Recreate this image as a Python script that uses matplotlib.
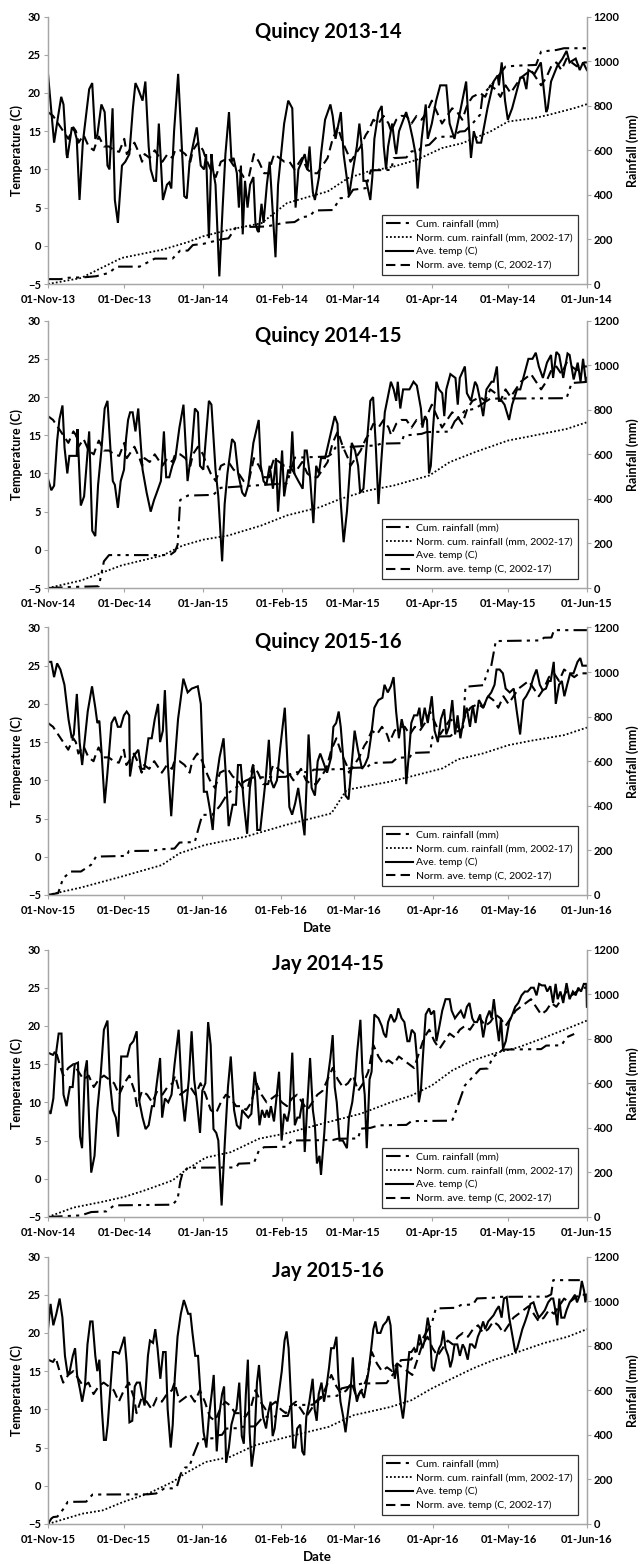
import datetime as dt

import matplotlib
matplotlib.use("Agg")
import matplotlib.pyplot as plt
import matplotlib.dates as mdates
from matplotlib.lines import Line2D

plt.rcParams["font.family"] = ["Lato", "DejaVu Sans"]

# ---- data: (day offset from 01-Nov, value) ----
TITLES = ["Quincy 2013-14", "Quincy 2014-15", "Quincy 2015-16", "Jay 2014-15", "Jay 2015-16"]
START_YEARS = [2013, 2014, 2015, 2014, 2015]

quincy_norm_temp = [
    (0, 17.5), (2, 17), (4, 16), (6, 15), (8, 14), (10, 15.5), (11, 15), (12, 13.5), (14, 14.5),
    (16, 13), (18, 12.5), (19, 13.5), (20, 14.3), (22, 13), (24, 13), (26, 12.5), (28, 12.3),
    (30, 14), (31, 12), (32, 12.5), (34, 13.5), (36, 12), (37, 11), (38, 12), (40, 11.5),
    (42, 12.5), (45, 11), (47, 12), (49, 11.5), (50, 12.5), (52, 12.5), (54, 12), (56, 11),
    (57, 12.5), (59, 13.5), (61, 12.5), (62, 11.5), (64, 10), (66, 9), (68, 11), (71, 11.5),
    (73, 10.5), (75, 10), (77, 9), (79, 9), (80, 10.5), (81, 12), (83, 11), (85, 9.5), (87, 9.5),
    (88, 11), (89, 12), (91, 11.5), (93, 11), (95, 11), (97, 10), (98, 10.5), (100, 11.5),
    (102, 10), (104, 9.5), (106, 9.5), (108, 10.5), (110, 11.5), (112, 14), (114, 15.5),
    (116, 13.5), (118, 12), (119, 11), (121, 12), (123, 13), (125, 14.5), (126, 15), (128, 16.5),
    (130, 16), (132, 17), (134, 16), (135, 15), (137, 16.5), (139, 17), (141, 17), (143, 16),
    (145, 17), (147, 16.5), (149, 17.5), (151, 19), (153, 17.5), (155, 16), (157, 17), (159, 18),
    (161, 17.5), (163, 16.5), (165, 18.5), (167, 19.5), (170, 20), (172, 19.5), (174, 21),
    (176, 20.5), (178, 19.5), (180, 21), (182, 20), (184, 21), (186, 22), (188, 22.5), (190, 23),
    (192, 22), (194, 21), (196, 22), (198, 23.5), (200, 24), (202, 23), (204, 24.5), (206, 24),
    (208, 23.5), (210, 24), (213, 24),
]

jay_norm_temp = [
    (0, 16.5), (2, 16.2), (3, 16.8), (5, 14.5), (6, 13.5), (8, 14.5), (10, 15), (12, 14),
    (14, 13), (16, 13.5), (18, 12), (20, 13), (22, 13.5), (24, 13), (26, 12.5), (28, 11),
    (30, 12.5), (32, 13.5), (34, 11.5), (35, 9.5), (37, 11.5), (39, 11), (41, 10), (43, 11.5),
    (45, 11), (47, 12), (49, 12.5), (50, 13.5), (52, 11), (54, 11.5), (56, 12), (58, 11),
    (60, 12.5), (62, 11), (64, 9), (66, 8.5), (68, 10), (70, 11), (72, 10.5), (74, 9.5),
    (76, 9.5), (78, 9), (80, 10), (82, 12.5), (84, 11), (86, 10), (88, 10.5), (90, 11), (92, 10),
    (94, 9.5), (96, 10.5), (98, 11), (100, 10), (102, 9), (104, 10), (106, 11), (108, 11.5),
    (110, 13), (112, 14.5), (114, 13), (116, 12), (118, 12.5), (120, 13.5), (122, 11.5),
    (124, 12.5), (126, 14), (128, 17.5), (130, 16), (132, 15), (134, 15.5), (136, 15), (138, 16),
    (140, 15.5), (142, 15), (144, 14.5), (146, 16.5), (148, 18.5), (150, 19.5), (152, 18),
    (154, 17), (156, 18), (158, 19), (160, 18.5), (162, 19.5), (164, 20), (166, 19.5),
    (168, 20.5), (170, 21), (172, 20), (174, 20.5), (176, 21.5), (178, 21), (180, 20), (182, 21),
    (184, 22), (186, 22.5), (188, 23), (190, 23.5), (192, 22.5), (194, 21.5), (196, 22),
    (198, 23), (200, 22.5), (202, 23.5), (204, 24.5), (206, 24), (208, 24.5), (210, 25), (213, 25),
]

q13_temp = [
    (0, 22.5), (2.4, 13.5), (4, 17), (5.2, 19.5), (6.1, 18.5), (7.3, 12), (7.6, 11.5), (9.4, 15.5),
    (10.5, 15), (11.3, 14), (12.4, 6), (13.7, 13.5), (16.2, 20.5), (17.4, 21.3), (18.6, 14),
    (19.4, 14.5), (20.2, 16.5), (21, 18.5), (22.3, 17.5), (23.4, 10.5), (24.2, 10), (25.4, 18),
    (26.3, 6), (27.5, 3), (29.1, 10.5), (30.4, 11), (32, 12), (33.4, 18), (34.4, 21.3),
    (35.5, 20.5), (37.2, 19), (38.3, 21.5), (39.6, 13), (40.4, 10), (41.7, 8.5), (42.5, 8.5),
    (43.6, 16), (45.2, 6), (46.8, 8), (47.7, 8.3), (48.5, 7.5), (49.6, 15), (51.2, 22.5),
    (52.2, 16), (53.6, 6.5), (54.6, 6.2), (55.7, 11), (58.5, 15.5), (59.3, 13), (60.1, 10.5),
    (61.4, 10), (62.2, 12), (63.3, 1), (64.3, 12), (64.9, 10), (65.9, 8), (67.4, -4), (68.7, 5),
    (69.8, 12), (71.2, 17.5), (72.2, 11), (73, 11.5), (74.3, 9.5), (75.1, 5), (75.9, 10.5),
    (76.6, 1.5), (77.5, 8.5), (78.5, 5), (79.5, 8), (80.8, 9), (81.6, 3), (82.4, 2), (82.9, 1.8),
    (84, 5.5), (84.8, 3), (86.1, 8), (87.2, 11), (89.5, -1.5), (90.5, 8), (92.9, 16), (94.5, 19),
    (96.1, 18), (97.4, 5), (98.5, 10), (99.8, 11), (101, 12), (102.1, 10), (102.9, 13),
    (103.7, 9), (104.2, 7), (105, 6), (106.6, 9), (107.4, 12), (109, 16.5), (111.1, 18.5),
    (112, 17), (113.1, 14), (115.2, 17.5), (116.3, 12), (117.9, 8), (118.4, 6.5), (120, 10),
    (121.5, 13), (122.5, 16), (123.6, 12.5), (124.1, 8.5), (125.2, 8.5), (126.8, 6), (127.6, 9),
    (128.4, 14), (130, 17.5), (131.3, 18.3), (132.1, 13), (133, 10), (133.8, 13), (135.4, 16),
    (136.5, 13), (137, 12), (138.1, 15), (140.9, 17.5), (142.2, 16), (143.5, 14), (144.6, 12),
    (145.4, 7.5), (147, 14), (148.6, 18.5), (149.4, 14), (151, 16), (152.7, 19), (154.3, 21),
    (156.7, 21), (158, 16), (159.9, 14), (162.4, 18), (164.5, 21.5), (165.3, 17), (166.4, 11.5),
    (167.5, 15), (168.8, 13.5), (170.4, 13.5), (172.9, 18), (175.3, 21.5), (176.9, 22.3),
    (177.4, 21), (178.5, 24), (179.8, 19), (180.9, 16.5), (182.6, 18), (185.8, 22), (187.1, 22),
    (188.2, 20.5), (189, 23), (191.4, 22.5), (193.9, 24), (196, 17.5), (196.6, 18), (197.9, 21.5),
    (200.3, 23.5), (202.4, 24.5), (204, 25.5), (205.2, 24), (207.6, 24.5), (209.2, 23),
    (210.5, 24), (212, 23),
]
q13_rain = [
    (0, 22), (5, 22), (8, 28), (14, 30), (19, 35), (24, 50), (27, 78), (36, 78), (42, 114),
    (49, 114), (52, 150), (55, 150), (57, 175), (61, 180), (68, 200), (71, 205), (74, 255),
    (86, 258), (93, 275), (97, 278), (100, 300), (103, 305), (105, 330), (112, 332), (115, 385),
    (118, 388), (120, 423), (125, 430), (127, 510), (135, 512), (136, 565), (141, 568),
    (143, 595), (146, 600), (147, 617), (150, 625), (153, 660), (159, 662), (162, 684),
    (164, 686), (167, 720), (170, 760), (171, 850), (174, 886), (180, 976), (185, 980),
    (192, 983), (194, 1043), (200, 1050), (203, 1058), (212, 1058),
]
q13_norm_rain = [
    (0, 0), (13, 27), (29, 117), (45, 154), (55, 188), (61, 214), (71, 243), (84, 273), (94, 363),
    (103, 393), (110, 415), (118, 475), (126, 505), (136, 527), (145, 557), (155, 610),
    (163, 632), (174, 684), (181, 729), (191, 744), (197, 759), (207, 789), (212, 807),
]

q14_temp = [
    (0, 9.3), (1.3, 7.8), (2.4, 8.4), (3.6, 14.3), (4.5, 17.1), (5.7, 18.9), (6.5, 13.4),
    (7.6, 10), (8.4, 12.3), (11.3, 12.3), (11.6, 15.8), (12.9, 5.8), (14.2, 7), (16.2, 15.5),
    (17.4, 2.5), (18.6, 1.8), (19.7, 8.5), (21, 13), (22.3, 18.5), (23.4, 19.5), (24.6, 13),
    (25.5, 9), (26.3, 8.5), (27.5, 5.5), (28.6, 9), (29.9, 10.5), (30.7, 14.5), (31.5, 17),
    (32.3, 18), (33.3, 18), (34.4, 15.5), (35.5, 18.5), (37.2, 10.5), (38.8, 7.5), (40.4, 5),
    (41.7, 6.5), (42.8, 7.5), (44.4, 9), (45.6, 15.5), (46.5, 9.5), (47.7, 9.5), (48.9, 11),
    (50.1, 12), (51.7, 16), (53.3, 19), (54.1, 14), (54.9, 9), (56.5, 13), (57.8, 18.5),
    (59, 18), (59.8, 11), (61.1, 10.5), (63.3, 19.5), (64.3, 19), (65.9, 10.5), (67, 7),
    (68.5, -1.5), (69.5, 6), (70.6, 10), (72.4, 14.5), (73.5, 14), (74.8, 10), (76.4, 7.5),
    (77.5, 7), (78.8, 8.5), (80.8, 14), (82.9, 17), (83.7, 11), (84.8, 9), (85.9, 8.5),
    (87.2, 11), (88.5, 8), (89.7, 12), (90.5, 5), (92.1, 13), (92.9, 7), (94.5, 10.5),
    (95.3, 10), (96.1, 15.5), (96.9, 10), (98.5, 9), (100.2, 8), (101, 13), (101.8, 13),
    (103.1, 9.5), (104.4, 3.5), (105.5, 11), (106.6, 10), (107.4, 12), (109, 12), (112.8, 17.5),
    (113.9, 16.5), (115, 7), (116.3, 1), (117.6, 5), (119.5, 14), (120.8, 13), (122, 11),
    (122.8, 7.5), (124.1, 8), (125.2, 13), (126.8, 19.5), (127.9, 20), (128.9, 14), (130, 6),
    (131.2, 12), (132.5, 18), (134.9, 22), (136, 21), (137, 19.5), (137.6, 22), (138.6, 18.5),
    (139.7, 21), (142.2, 21), (143.8, 22), (145.1, 21.5), (146.7, 18.5), (147.3, 16),
    (148.3, 17.5), (149.1, 17), (149.9, 10), (150.6, 11), (151.5, 16), (152.8, 22), (153.8, 21),
    (155.1, 20.5), (155.9, 17.5), (156.7, 21), (158.3, 23), (160.3, 22.5), (161.2, 19),
    (162, 22.5), (164, 24), (164.8, 20.5), (166.4, 19.5), (168, 22), (168.8, 21.5), (170.4, 19),
    (171.2, 17.5), (172.5, 21), (174.5, 22), (175.3, 22), (176.6, 24), (177.4, 19.5),
    (178.5, 19.5), (179.6, 19), (181.4, 17), (182.6, 19), (184.5, 21), (185.8, 21), (186.6, 22),
    (189, 25), (190.6, 25), (191.9, 25.8), (193.1, 24), (194.7, 22.5), (196.3, 24.5),
    (197.9, 25.5), (198.7, 22.5), (200, 25.9), (201.1, 25.5), (202.7, 22.5), (204.4, 25.7),
    (205.2, 25.5), (206.8, 22.3), (208.4, 24.5), (209.5, 22), (210.5, 25), (211.6, 22), (212, 22.5),
]
q14_rain = [
    (0, 0), (10, 5), (20, 8), (22, 120), (24, 148), (48, 148), (50, 165), (51, 195), (52, 395),
    (55, 415), (65, 418), (68, 450), (81, 460), (94, 470), (97, 585), (110, 590), (112, 605),
    (113, 630), (121, 635), (129, 640), (131, 648), (139, 650), (140, 684), (147, 692),
    (149, 700), (158, 702), (160, 748), (164, 795), (168, 805), (174, 850), (204, 852),
    (206, 920), (212, 925),
]
q14_norm_rain = [
    (0, 0), (13, 34), (29, 102), (45, 146), (53, 191), (61, 217), (71, 236), (84, 281), (94, 326),
    (107, 363), (115, 400), (126, 438), (136, 460), (150, 505), (158, 565), (168, 610),
    (181, 662), (191, 684), (204, 714), (212, 744),
]

q15_temp = [
    (0, 25.5), (1.3, 25.5), (2.4, 23.5), (3.6, 25.3), (4.9, 24.5), (6.5, 22.5), (8.1, 18),
    (9.4, 15.5), (10.2, 16), (11.4, 21.3), (12.5, 15), (13.5, 12), (14.6, 15.5), (15.7, 19),
    (17.4, 22.3), (18.7, 19.5), (19.5, 17.5), (20.3, 17.8), (21.1, 14), (22.4, 7), (23.5, 11),
    (25.1, 17.5), (26.4, 18.3), (27.6, 17), (28.7, 17), (30, 18.5), (31.1, 19), (32.1, 18.5),
    (32.4, 10.5), (33.6, 13), (34.6, 13.5), (35.7, 14), (36.8, 11.5), (38.1, 11.5), (39.7, 15.5),
    (41, 15.5), (42.2, 18), (43.5, 20), (44.3, 15), (45.4, 16.5), (46.2, 21.8), (47.4, 12),
    (48.7, 5.3), (50, 12), (51.4, 18), (53.5, 23.3), (55.2, 21.5), (56.8, 22), (59.2, 22.3),
    (60.4, 20), (61.6, 8.5), (62.8, 8.5), (64.1, 6), (65.1, 3.5), (66.5, 10), (67.8, 13),
    (69.4, 15.5), (70.6, 9), (71.4, 4), (73, 6.8), (74.3, 6.8), (75.1, 12), (76.2, 12),
    (77.4, 7), (78.7, 3), (79.8, 9), (81.1, 12), (81.9, 10), (82.7, 3.5), (83.9, 3.5), (84.7, 6),
    (86, 10), (87.3, 15.3), (88.1, 10), (89.2, 9), (90.5, 10), (91.7, 14), (93.6, 19.5),
    (94.4, 14), (95.4, 6.5), (96.5, 5.5), (97.7, 7), (98.9, 9), (101.4, 2.8), (101.9, 7),
    (103, 16), (104.2, 9), (105.5, 8), (106.6, 12.5), (107.6, 13.5), (108.7, 12.5), (110.3, 11),
    (111.9, 13), (112.8, 17), (113.9, 17.5), (114.9, 19), (115.7, 17), (116.8, 12.5),
    (117.6, 8), (118.8, 7.5), (120, 12), (121.2, 16.5), (122.5, 14), (124.1, 11.5), (125.2, 12),
    (126.5, 13), (127.8, 16), (129, 19.5), (130.6, 20.5), (132.2, 20.8), (133, 22.5),
    (134.3, 21.5), (135.5, 22.3), (136.6, 23.5), (137.6, 19), (138.7, 15.5), (139.8, 18),
    (140.8, 16.5), (141.6, 9.5), (142.8, 14), (143.6, 17.5), (144.7, 18.5), (146, 18.5),
    (146.8, 19.5), (147.6, 17), (148.9, 19.5), (150.1, 17.5), (151.7, 21), (152.8, 16.5),
    (154.1, 15), (155.3, 18), (156.6, 19.3), (157.4, 16), (158.5, 17), (159.8, 20.5),
    (160.9, 16), (161.9, 18.5), (163, 15.5), (164.3, 18), (165.5, 19.5), (166.8, 17),
    (167.9, 19.8), (169, 17.5), (170.3, 20.5), (172, 19.5), (173.6, 20.8), (175.2, 21.5),
    (176.5, 22.5), (177.3, 24.5), (178.5, 24.5), (179.8, 24), (180.9, 22), (182.5, 21.5),
    (184.1, 22), (185.3, 19), (186.6, 16), (187.9, 20.5), (189, 21), (190.6, 22), (191.9, 23.5),
    (193.1, 24.5), (194.4, 22.5), (195.5, 21.8), (196.8, 22), (197.9, 23), (198.7, 23),
    (199.9, 25.5), (200.7, 20), (202, 22.5), (203.1, 23), (204.1, 21), (205.2, 22.5),
    (206.4, 24), (207.7, 24), (209.3, 25.5), (210.4, 26), (211.2, 25), (212.5, 25), (213, 25),
]
q15_rain = [
    (0, 0), (4, 8), (6, 75), (9, 105), (13, 105), (17, 135), (19, 172), (31, 175), (32, 197),
    (41, 198), (45, 205), (50, 208), (52, 235), (58, 237), (60, 320), (61, 359), (65, 360),
    (68, 400), (71, 455), (78, 512), (81, 527), (94, 530), (97, 550), (104, 552), (105, 562),
    (118, 565), (120, 570), (126, 572), (128, 592), (136, 595), (138, 615), (143, 618),
    (144, 637), (151, 640), (152, 710), (159, 712), (161, 732), (164, 740), (165, 934),
    (172, 941), (174, 1010), (175, 1015), (177, 1139), (195, 1142), (196, 1154), (199, 1155),
    (200, 1188), (213, 1188),
]
q15_norm_rain = [
    (0, 0), (13, 33), (29, 82), (45, 134), (52, 187), (62, 224), (78, 261), (94, 314), (112, 366),
    (118, 471), (135, 508), (144, 533), (156, 568), (162, 608), (172, 635), (182, 672),
    (191, 692), (204, 717), (213, 751),
]

j14_temp = [
    (0, 9), (1, 8.5), (2.1, 10.5), (3.2, 16.5), (4.2, 19), (5.3, 19), (6.1, 11), (7.3, 9.5),
    (8.6, 12), (9.7, 12), (10.5, 15), (11.8, 15.2), (12.6, 5.5), (13.4, 4), (14.5, 14),
    (15.3, 15.5), (16.3, 6.5), (17, 0.8), (18.3, 3), (19.4, 9), (20.7, 13.5), (22, 19.5),
    (23.4, 20.7), (24.4, 12.5), (25.5, 9), (26.7, 8), (27.6, 5.5), (28.8, 16), (29.9, 16),
    (31.2, 16), (32.3, 17.5), (33.6, 18), (34.9, 19.3), (36, 10), (37.2, 8), (38.4, 6.5),
    (39.6, 7), (40.9, 9.5), (41.7, 9.5), (42.8, 12.5), (44.1, 15.8), (44.9, 8), (46, 10.5),
    (47.3, 10), (48.6, 11), (49.8, 15), (51.4, 19.5), (52.7, 11), (53.8, 7.5), (55.4, 13),
    (56.5, 19.3), (57.5, 13), (58.6, 10), (59.8, 6), (60.7, 11.5), (61.9, 12.5), (63, 20.5),
    (64, 17.5), (65.1, 6.5), (66.2, 6), (67, 5), (68.3, -3.5), (69.6, 5), (70.8, 12), (71.9, 16),
    (73.2, 9), (74.3, 7), (75.6, 6.5), (76.4, 9), (77.5, 8.5), (78.8, 8), (80, 8.5), (81.3, 14),
    (82.1, 12), (83.2, 7), (84.2, 9), (85.3, 8), (86.1, 9), (86.9, 8), (87.7, 9.5), (88.9, 7.5),
    (89.7, 10), (90.9, 14), (91.9, 5), (92.9, 8.5), (94.2, 7.5), (95, 9), (96.1, 16.5),
    (97.1, 7), (98.1, 8), (99, 8), (100.3, 10.5), (101, 3.5), (101.9, 9), (103.1, 15.8),
    (104.2, 9), (105, 7), (105.8, 2), (106.8, 3), (107.4, 0.5), (108.7, 6), (110, 13),
    (111.1, 15.8), (112, 18.8), (112.8, 12), (113.6, 10), (114.7, 5), (116, 5), (117.6, 4),
    (118.4, 8), (119.7, 10), (120.8, 13), (121.6, 16.5), (122.9, 20.8), (123.7, 14),
    (124.6, 11), (125.4, 4), (126.5, 13), (127.3, 14), (128.4, 21.5), (130, 21), (131.3, 20),
    (132.1, 19), (133, 18.5), (133.8, 20.5), (134.9, 21.5), (136.2, 20.5), (137, 21),
    (137.8, 22.3), (139.1, 21), (140.2, 20.5), (141.4, 18), (142.2, 18), (143.1, 19.5),
    (144.3, 19), (145.1, 16), (145.9, 10), (146.7, 11.5), (147.5, 16), (148.6, 21.5),
    (149.9, 22.3), (150.7, 21.5), (151.9, 22), (152.8, 18), (154, 20), (155.1, 22), (156.4, 23.5),
    (158, 23.5), (158.8, 22), (160.1, 21), (161.2, 21.5), (162.4, 22), (163.7, 21),
    (164.8, 22.5), (165.8, 23), (166.9, 21), (167.7, 20.5), (168.8, 20.5), (170, 21.5),
    (171.2, 18.5), (172.5, 21), (173.7, 22), (174.5, 21), (175.4, 23.5), (176.6, 20),
    (177.4, 18), (178.2, 21), (179, 17), (180.1, 18), (181.4, 20.5), (182.7, 21.5),
    (183.8, 22.5), (185, 23), (186.3, 24), (187.6, 24.5), (188.7, 24.5), (190, 25), (191.1, 25),
    (192.2, 24), (193.2, 25.5), (194.3, 25.3), (195.5, 25.3), (196.4, 24.5), (197.6, 25.2),
    (198.7, 23), (199.7, 25.5), (200.5, 23.5), (201.6, 24.5), (202.7, 23), (204, 25.6),
    (205.2, 23.5), (206.5, 24.5), (207.6, 24), (208.6, 25), (209.7, 24.5), (210.8, 25.5),
    (211.8, 25.5), (212, 22.5),
]
j14_rain = [
    (0, 0), (13, 7), (17, 22), (23, 25), (26, 52), (49, 55), (51, 80), (52, 157), (53, 200),
    (55, 221), (74, 222), (75, 239), (81, 242), (83, 299), (85, 313), (94, 315), (96, 343),
    (112, 345), (114, 351), (122, 352), (123, 396), (127, 400), (130, 411), (141, 413),
    (143, 430), (159, 432), (160, 460), (164, 590), (167, 627), (170, 664), (173, 666),
    (175, 717), (179, 751), (194, 753), (196, 769), (202, 770), (204, 806), (207, 821),
]
j14_norm_rain = [
    (0, 0), (10, 42), (21, 67), (30, 90), (38, 119), (49, 164), (54, 209), (62, 266), (72, 291),
    (83, 351), (94, 376), (110, 425), (123, 463), (135, 515), (143, 545), (151, 590),
    (159, 657), (167, 702), (175, 732), (185, 761), (194, 799), (204, 844), (212, 881),
]

j15_temp = [
    (0, 20.5), (1, 23.8), (2.1, 21), (3.3, 22.5), (4.6, 24.5), (5.7, 22), (6.7, 17), (7.8, 14.5),
    (8.6, 15), (9.8, 17), (10.7, 18), (11.5, 14.5), (12.7, 12.5), (13.5, 11), (14.6, 13),
    (15.6, 18.5), (16.7, 21.5), (17.6, 21.5), (18.7, 17), (19.5, 15), (20.3, 16.5), (21.3, 10),
    (22.1, 6), (22.9, 6), (23.6, 8), (24.6, 12.5), (25.7, 17.5), (26.8, 17.5), (28.1, 17.3),
    (29.3, 18.5), (30.2, 19.5), (31.1, 16), (32.2, 8.3), (33.3, 8.5), (34.3, 13), (35.1, 13.5),
    (36.3, 13.5), (37.1, 12), (38.2, 10.5), (39.5, 17), (40.3, 19), (41.5, 18.7), (42.4, 20.5),
    (43.3, 18), (44.4, 14), (45.5, 17.5), (46.5, 17.5), (47.3, 10), (48.5, 5), (49.3, 8),
    (50.1, 14), (51.2, 19.5), (52.5, 22.5), (53.7, 24.3), (54.5, 23.5), (55.4, 22.5),
    (56.3, 22.5), (57.1, 20), (58.2, 17), (59.3, 17), (60.3, 12), (61.5, 7), (62.6, 5),
    (63.6, 9), (64.7, 12), (65.5, 14.5), (66.7, 4.5), (67.6, 9), (68.8, 12), (69.6, 13),
    (70.4, 3), (71.5, 5), (72.5, 8), (73.7, 9.5), (74.5, 10), (75.6, 13.5), (76.6, 6.5),
    (77.4, 5.5), (78.2, 12), (79, 16.5), (79.7, 7), (80.5, 2.5), (81.5, 5), (82.6, 13.5),
    (83.4, 15.8), (84.2, 12), (85, 9), (86.2, 7.5), (87, 9.5), (88, 11), (88.8, 6.5), (89.6, 7.5),
    (90.4, 10), (91.2, 12), (92.4, 15), (93.5, 19), (94.3, 20.2), (95.1, 18), (96.1, 11),
    (96.9, 5), (97.7, 5), (98.5, 7.5), (99.7, 8), (100.5, 4.5), (101.3, 4), (102.1, 9),
    (103.3, 11), (104.6, 14), (105.4, 10), (106.2, 8.5), (107, 12), (108.1, 13.5), (109.1, 11),
    (109.9, 12.5), (111.1, 15.5), (111.9, 18), (113, 18), (114, 19.5), (114.8, 14), (115.6, 11),
    (116.7, 9), (117.6, 7), (118.7, 10), (119.5, 12), (120.5, 16.8), (121.1, 13), (122.1, 11),
    (122.9, 12), (123.7, 12.5), (124.9, 11.5), (125.7, 13), (126.7, 15), (127.6, 17.5),
    (128.6, 20.5), (129.4, 21.5), (130.2, 20), (131.4, 20), (132.5, 21), (133.8, 21.5),
    (134.6, 22.2), (135.4, 21), (136.3, 16), (137.1, 14), (137.9, 16), (138.7, 13), (139.5, 10.5),
    (140.3, 8.8), (141.1, 11), (142, 15), (142.8, 17.5), (143.6, 17.5), (144.7, 18),
    (145.7, 17.5), (146.8, 19.8), (148, 18), (148.9, 19), (150.1, 22), (150.9, 20.5),
    (151.7, 15.5), (152.5, 15), (153.7, 17), (154.6, 18), (155.4, 18.5), (156.3, 20.3),
    (157.1, 18), (158.2, 17), (159, 15.5), (159.8, 16.5), (160.7, 18.5), (161.8, 18.5),
    (162.8, 17), (163.9, 18.5), (164.7, 18), (165.9, 16.5), (166.8, 18.5), (167.6, 18.5),
    (168.8, 18), (169.9, 19.5), (170.9, 20.3), (172, 21.5), (172.8, 20.5), (174, 21.5),
    (175.3, 22), (176.1, 22.3), (177.2, 23), (178.2, 23.5), (179.3, 22), (180.2, 24.5),
    (181.3, 24.7), (182.3, 22), (183.1, 20.5), (183.9, 19), (184.7, 17.5), (185.5, 18),
    (186.3, 19), (187.5, 20.5), (188.6, 21.5), (189.6, 22.5), (190.7, 23.8), (191.9, 24),
    (192.8, 23), (194, 22), (195.3, 22.5), (196.4, 23), (197.7, 24), (198.9, 24.5),
    (199.7, 24.5), (200.5, 23), (201.3, 21), (202.1, 24.5), (202.9, 22), (204.1, 22), (205, 23),
    (206.2, 24), (207.3, 24.5), (208.3, 25), (209.1, 24), (210.2, 25), (211, 26.8),
    (211.9, 25.5), (212.4, 24), (213, 25),
]
j15_rain = [
    (0, 0), (1.3, 24), (2.1, 31), (3.7, 33), (6.2, 69), (7.8, 99), (15.1, 100), (17.6, 132),
    (39.5, 133), (42.8, 137), (43.6, 144), (46, 159), (49.3, 160), (50.9, 166), (52.5, 226),
    (54.1, 253), (55.8, 255), (57.4, 308), (59.8, 376), (62.3, 383), (66.3, 385), (67.2, 398),
    (68.8, 400), (70.4, 428), (75.3, 430), (76.9, 436), (81.8, 438), (85, 480), (94.8, 485),
    (96, 533), (104.6, 535), (107.8, 570), (114.3, 575), (116, 608), (124.1, 630), (133.8, 632),
    (137.1, 683), (139.5, 735), (143.6, 738), (145.2, 775), (148.5, 840), (151.7, 900),
    (153.3, 967), (161.5, 970), (163.1, 982), (168, 985), (169.6, 1012), (176.1, 1015),
    (177.7, 1019), (197.2, 1020), (198.9, 1030), (199.7, 1094), (210.2, 1094),
]
j15_norm_rain = [
    (0, 0), (13.5, 46), (21.6, 61), (29.8, 99), (39.5, 136), (49.3, 189), (54.1, 226),
    (62.3, 278), (72, 301), (81.8, 353), (94.8, 391), (111, 436), (120.8, 488), (135.4, 525),
    (143.6, 555), (151.7, 608), (159.8, 653), (168, 698), (176, 735), (185.9, 772),
    (195.6, 810), (205.4, 840), (213, 874),
]

PANELS = [
    (q13_temp, quincy_norm_temp, q13_rain, q13_norm_rain),
    (q14_temp, quincy_norm_temp, q14_rain, q14_norm_rain),
    (q15_temp, quincy_norm_temp, q15_rain, q15_norm_rain),
    (j14_temp, jay_norm_temp, j14_rain, j14_norm_rain),
    (j15_temp, jay_norm_temp, j15_rain, j15_norm_rain),
]
SHOW_DATE_LABEL = [False, False, True, False, True]

# axes placement (figure fractions)
AX_LEFT, AX_WIDTH, AX_HEIGHT = 0.075, 0.842, 0.1710
AX_BOTTOMS = [0.8184, 0.6240, 0.4278, 0.2219, 0.0256]

SPINE_GREY = "#a6a6a6"
RAIN_STYLE = (0, (7, 2.5, 1.5, 2.5, 1.5, 2.5))
NORM_TEMP_STYLE = (0, (4.5, 2.5))
NORM_RAIN_STYLE = (0, (1, 1.2))


def to_dates(start, pairs):
    days = [p[0] for p in pairs]
    vals = [p[1] for p in pairs]
    return [start + dt.timedelta(days=d) for d in days], vals


def draw_panel(fig, bottom, title, year, series, date_label):
    temp, norm_temp, rain, norm_rain = series
    start = dt.datetime(year, 11, 1)
    end = dt.datetime(year + 1, 6, 1)

    ax = fig.add_axes([AX_LEFT, bottom, AX_WIDTH, AX_HEIGHT])
    ax2 = ax.twinx()

    x, y = to_dates(start, temp)
    ax.plot(x, y, color="black", lw=1.5, solid_joinstyle="miter")
    x, y = to_dates(start, norm_temp)
    ax.plot(x, y, color="black", lw=1.5, linestyle=NORM_TEMP_STYLE)
    x, y = to_dates(start, rain)
    ax2.plot(x, y, color="black", lw=1.5, linestyle=RAIN_STYLE)
    x, y = to_dates(start, norm_rain)
    ax2.plot(x, y, color="black", lw=1.3, linestyle=NORM_RAIN_STYLE)

    ax.set_xlim(start, end)
    ax.set_ylim(-5, 30)
    ax.set_yticks(range(-5, 31, 5))
    ax2.set_ylim(0, 1200)
    ax2.set_yticks(range(0, 1201, 200))

    ax.xaxis.set_major_locator(mdates.MonthLocator())
    ax.xaxis.set_major_formatter(mdates.DateFormatter("%d-%b-%y"))

    for a in (ax, ax2):
        a.spines["top"].set_visible(False)
        for side in ("left", "right", "bottom"):
            a.spines[side].set_color(SPINE_GREY)
            a.spines[side].set_linewidth(0.9)
        a.tick_params(direction="out", length=3, width=0.8, color=SPINE_GREY,
                      labelsize=8, pad=2)
        for lab in a.get_xticklabels() + a.get_yticklabels():
            lab.set_fontweight("bold")
    ax.tick_params(axis="x", pad=4.5)

    ax.set_ylabel("Temperature (C)", fontsize=9, fontweight="bold", va="center")
    ax.yaxis.set_label_coords(-0.058, 0.5)
    ax2.set_ylabel("Rainfall (mm)", fontsize=9, fontweight="bold", va="center")
    ax2.yaxis.set_label_coords(1.085, 0.5)
    if date_label:
        ax.set_xlabel("Date", fontsize=9.5, fontweight="bold", va="center")
        ax.xaxis.set_label_coords(0.5, -0.123)

    ax.text(0.52, 0.944, title, transform=ax.transAxes, ha="center", va="center",
            fontsize=14.5, fontweight="bold")

    handles = [
        Line2D([], [], color="black", lw=1.5, linestyle=RAIN_STYLE),
        Line2D([], [], color="black", lw=1.3, linestyle=NORM_RAIN_STYLE),
        Line2D([], [], color="black", lw=1.5),
        Line2D([], [], color="black", lw=1.5, linestyle=NORM_TEMP_STYLE),
    ]
    labels = [
        "Cum. rainfall (mm)",
        "Norm. cum. rainfall (mm, 2002-17)",
        "Ave. temp (C)",
        "Norm. ave. temp (C, 2002-17)",
    ]
    leg = ax2.legend(handles, labels, loc="lower right", bbox_to_anchor=(0.983, 0.034),
                     fontsize=7.5, frameon=True, fancybox=False, framealpha=1,
                     edgecolor="#333333", borderpad=0.45, labelspacing=0.42,
                     handlelength=2.6, handletextpad=0.3, borderaxespad=0)
    leg.get_frame().set_linewidth(0.9)


def main():
    fig = plt.figure(figsize=(6.4, 15.64), dpi=100)
    for i in range(5):
        draw_panel(fig, AX_BOTTOMS[i], TITLES[i], START_YEARS[i], PANELS[i], SHOW_DATE_LABEL[i])
    fig.savefig("out.png", dpi=100, facecolor="white")


if __name__ == "__main__":
    main()
